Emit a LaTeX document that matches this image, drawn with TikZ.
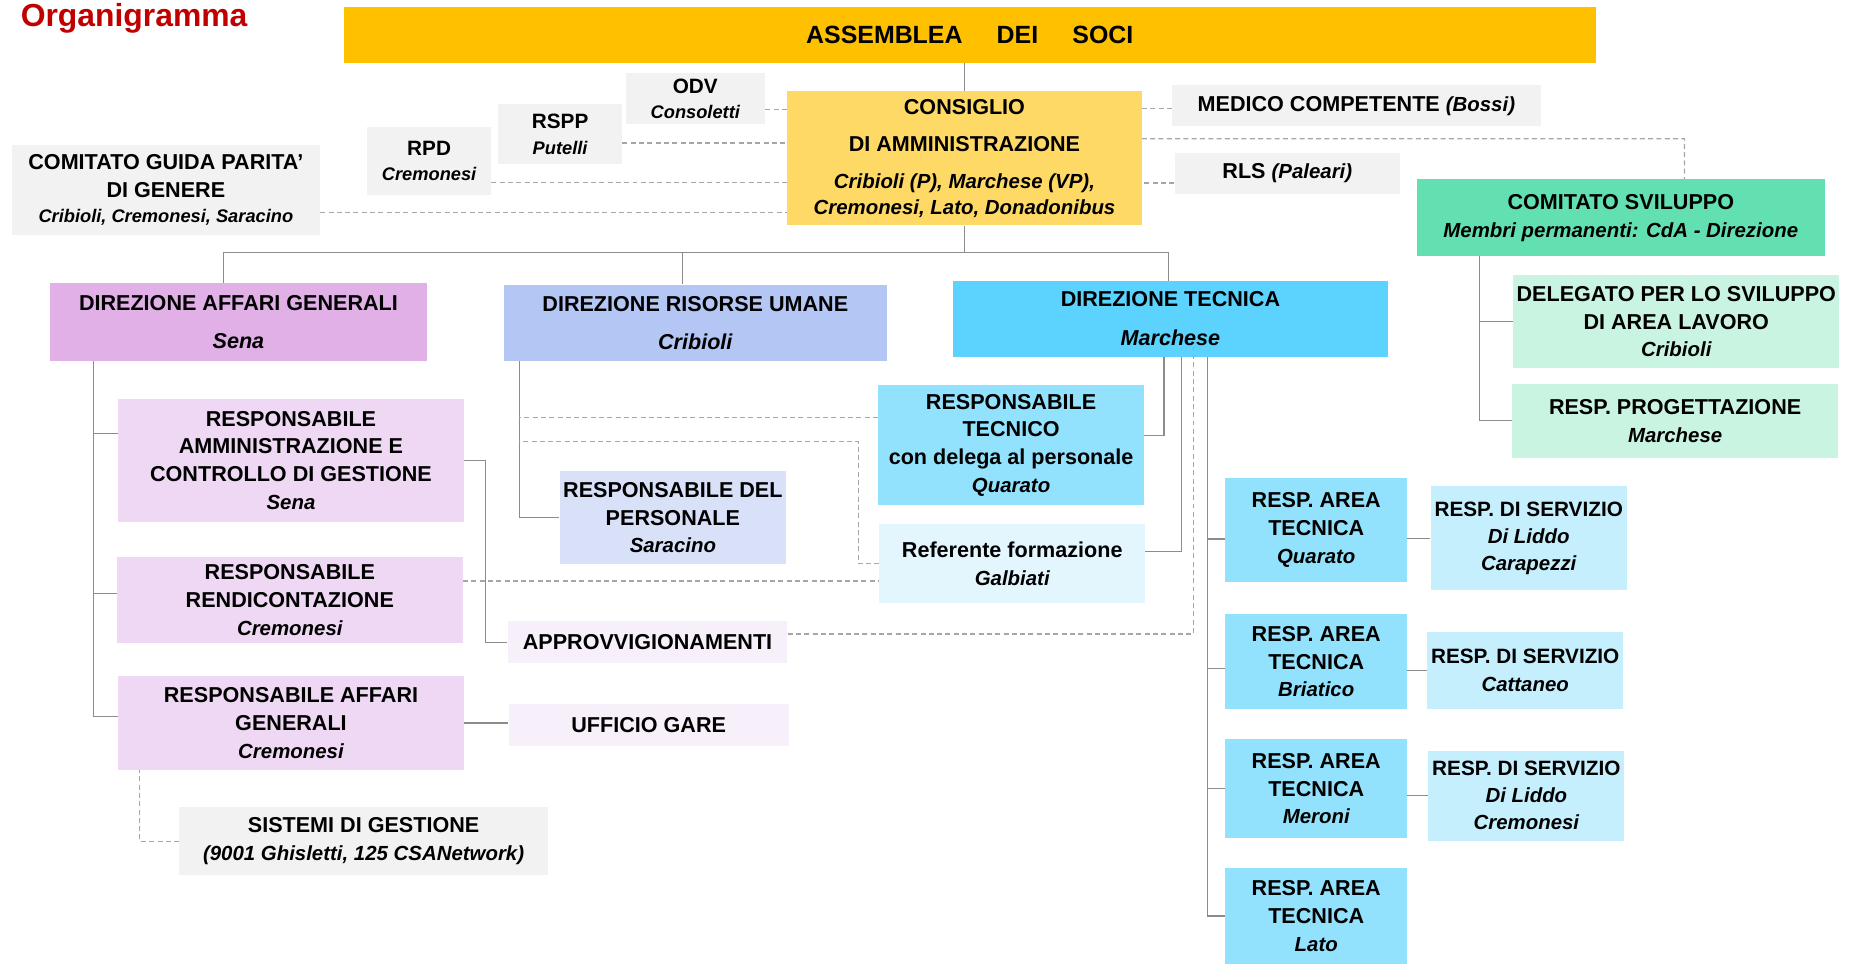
\documentclass[tikz,border=0pt]{standalone}
\usepackage{fontspec}
\setmainfont{Liberation Sans}
\definecolor{cAsm}{HTML}{FFC000}
\definecolor{cCda}{HTML}{FFD966}
\definecolor{cGr}{HTML}{F2F2F2}
\definecolor{cSvil}{HTML}{62E0B1}
\definecolor{cSvilB}{HTML}{C9F4E2}
\definecolor{cAg}{HTML}{E0B0E7}
\definecolor{cAgB}{HTML}{EED8F3}
\definecolor{cAgC}{HTML}{F7F0FA}
\definecolor{cRu}{HTML}{B4C6F4}
\definecolor{cRuB}{HTML}{D9E1F9}
\definecolor{cTec}{HTML}{5CD3FE}
\definecolor{cTecB}{HTML}{93E2FD}
\definecolor{cTecC}{HTML}{C5EFFD}
\definecolor{cTecD}{HTML}{E3F6FE}
\definecolor{cTit}{HTML}{C00000}
\definecolor{lncol}{HTML}{8C8C8C}
\definecolor{dshcol}{HTML}{A6A6A6}
\newcommand\nome[1]{{\itshape\fontsize{12.3}{16.7}\selectfont #1}}
\newcommand\nomeg[1]{{\itshape #1}}
\newcommand\nomep[1]{{\itshape\fontsize{11}{15}\selectfont #1}}

\begin{document}
\begin{tikzpicture}[x=0.025cm,y=-0.025cm,
    box/.style={inner sep=0pt,align=center,font=\bfseries\fontsize{13}{16.7}\selectfont},
    wh/.style 2 args={minimum width={#1*0.025cm},minimum height={#2*0.025cm}},
    conn/.style={draw=lncol,line width=0.7pt},
    dsh/.style={draw=dshcol,line width=0.7pt,dash pattern=on 3pt off 2pt}]
  \useasboundingbox (0,0) rectangle (1568,817);
  \node[anchor=base west,inner sep=0pt,text=cTit,font=\bfseries\fontsize{19.2}{22}\selectfont] (tit) at (17.3,22.6) {Organigramma};
  \node[box,wh={1061}{47},fill=cAsm,font=\bfseries\fontsize{15}{18}\selectfont] (asm) at (821.5,29.5) {ASSEMBLEA\hspace{20.6pt}DEI\hspace{20.6pt}SOCI};
  \node[box,wh={300}{114},fill=cCda] (cda) at (817,134) {CONSIGLIO\\[6pt]DI AMMINISTRAZIONE\\[5.3pt]\nome{Cribioli (P), Marchese (VP),}\\[-1pt]\nome{Cremonesi, Lato, Donadonibus}};
  \node[box,wh={118}{43},fill=cGr,font=\bfseries\fontsize{12.5}{15}\selectfont] (odv) at (589,83.5) {ODV\\\nomep{Consoletti}};
  \node[box,wh={105}{51},fill=cGr,font=\bfseries\fontsize{12.5}{15.5}\selectfont] (rspp) at (474.5,113.5) {RSPP\\\nomep{Putelli}};
  \node[box,wh={105}{57},fill=cGr,font=\bfseries\fontsize{12.5}{15}\selectfont] (rpd) at (363.5,136.5) {RPD\\\nomep{Cremonesi}};
  \node[box,wh={261}{76},fill=cGr] (cgp) at (140.5,161) {COMITATO GUIDA PARITA'\\DI GENERE\\[-1.4pt]\nomep{Cribioli, Cremonesi, Saracino}};
  \node[box,wh={312}{35},fill=cGr] (medico) at (1149,89.5) {MEDICO COMPETENTE \nome{(Bossi)}};
  \node[box,wh={191}{34},fill=cGr] (rls) at (1090.5,147) {RLS \nome{(Paleari)}};
  \node[box,wh={346}{65},fill=cSvil] (csv) at (1373,184.5) {COMITATO SVILUPPO\\\nome{Membri permanenti: CdA - Direzione}};
  \node[box,wh={276}{79},fill=cSvilB] (del) at (1420,272.5) {DELEGATO PER LO SVILUPPO\\DI AREA LAVORO\\\nome{Cribioli}};
  \node[box,wh={276}{63},fill=cSvilB] (prog) at (1419,356.5) {RESP. PROGETTAZIONE\\\nome{Marchese}};
  \node[box,wh={320}{66},fill=cAg] (dag) at (202,273) {DIREZIONE AFFARI GENERALI\\[6pt]\nomeg{Sena}};
  \node[box,wh={324}{65},fill=cRu] (dru) at (589,273.5) {DIREZIONE RISORSE UMANE\\[6pt]\nomeg{Cribioli}};
  \node[box,wh={369}{64},fill=cTec] (dtec) at (991.5,270) {DIREZIONE TECNICA\\[6.7pt]\nomeg{Marchese}};
  \node[box,wh={293}{104},fill=cAgB] (ramm) at (246.5,390) {RESPONSABILE\\AMMINISTRAZIONE E\\CONTROLLO DI GESTIONE\\\nome{Sena}};
  \node[box,wh={293}{73},fill=cAgB] (rrend) at (245.5,508.5) {RESPONSABILE\\RENDICONTAZIONE\\\nome{Cremonesi}};
  \node[box,wh={293}{79},fill=cAgB] (rag) at (246.5,612.5) {RESPONSABILE AFFARI\\GENERALI\\\nome{Cremonesi}};
  \node[box,wh={237}{36},fill=cAgC] (appr) at (548.5,544) {APPROVVIGIONAMENTI};
  \node[box,wh={237}{36},fill=cAgC] (gare) at (549.5,614) {UFFICIO GARE};
  \node[box,wh={312}{57},fill=cGr] (sist) at (308,712.5) {SISTEMI DI GESTIONE\\\nome{(9001 Ghisletti, 125 CSANetwork)}};
  \node[box,wh={192}{79},fill=cRuB] (rpers) at (570,438.5) {RESPONSABILE DEL\\PERSONALE\\\nome{Saracino}};
  \node[box,wh={225}{102},fill=cTecB] (rtec) at (856.5,377) {RESPONSABILE\\TECNICO\\con delega al personale\\\nome{Quarato}};
  \node[box,wh={225}{67},fill=cTecD] (rform) at (857.5,477.5) {Referente formazione\\\nome{Galbiati}};
  \foreach \i/\y/\h/\p in {1/449/88/Quarato,2/560.5/81/Briatico,3/668/84/Meroni,4/776/82/Lato}
    \node[box,wh={154}{\h},fill=cTecB] (at\i) at (1115,\y) {RESP. AREA\\TECNICA\\\nome{\p}};
  \node[box,wh={166}{88},fill=cTecC,font=\bfseries\fontsize{12.5}{16.2}\selectfont] (sv1) at (1295,456) {RESP. DI SERVIZIO\\\nome{Di Liddo}\\\nome{Carapezzi}};
  \node[box,wh={166}{66},fill=cTecC,font=\bfseries\fontsize{12.5}{16.7}\selectfont] (sv2) at (1292,568) {RESP. DI SERVIZIO\\\nome{Cattaneo}};
  \node[box,wh={166}{76},fill=cTecC,font=\bfseries\fontsize{12.5}{16.2}\selectfont] (sv3) at (1293,674) {RESP. DI SERVIZIO\\\nome{Di Liddo}\\\nome{Cremonesi}};

  \coordinate (bag) at (189,214);
  \coordinate (bru) at (578,214);
  \coordinate (btec) at (990,214);
  \coordinate (agl) at (79,306);
  \coordinate (rul) at (440,306);
  \coordinate (rfb) at (727,374);
  \coordinate (apx) at (411,544);
  \coordinate (sgx) at (118,652);
  \coordinate (csx) at (1427,117.5);
  \coordinate (svx) at (1253,217);
  \coordinate (tx1) at (986,302);
  \coordinate (tx2) at (1000.5,302);
  \coordinate (tx3) at (1011,294);
  \coordinate (tx4) at (1023,302);

  \draw[conn] (cda.north) -- (cda.north |- asm.south);
  \draw[conn] (cda.south) -- (cda.south |- bag);
  \draw[conn] (bag |- dag.north) -- (bag) -- (btec) -- (btec |- dtec.north);
  \draw[conn] (bru) -- (bru |- dru.north);
  \draw[dsh] ([yshift=-0.24cm]odv.east) -- ([yshift=-0.24cm]odv.east -| cda.west);
  \draw[dsh] ([yshift=-0.19cm]rspp.east) -- ([yshift=-0.19cm]rspp.east -| cda.west);
  \draw[dsh] ([yshift=-0.46cm]rpd.east) -- ([yshift=-0.46cm]rpd.east -| cda.west);
  \draw[dsh] ([yshift=-0.475cm]cgp.east) -- ([yshift=-0.475cm]cgp.east -| cda.west);
  \draw[dsh] ([yshift=-0.06cm]medico.west) -- ([yshift=-0.06cm]medico.west -| cda.east);
  \draw[dsh] ([yshift=-0.2cm]rls.west) -- ([yshift=-0.2cm]rls.west -| cda.east);
  \draw[dsh] ([yshift=0.41cm]cda.east) -- (csx) -- (csx |- csv.north);
  \draw[conn] (del.west) -| (svx);
  \draw[conn] (prog.west) -| (svx);
  \draw[conn] ([yshift=0.575cm]ramm.west) -| (agl);
  \draw[conn] ([yshift=0.14cm]rrend.west) -| (agl);
  \draw[conn] ([yshift=0.14cm]rag.west) -| (agl);
  \draw[conn] (ramm.east) -| (apx) -- (appr.west);
  \draw[conn] (rag.east) -- (rag.east -| gare.west);
  \draw[dsh] (sist.west) -| (sgx);
  \draw[conn] (rpers.west) -| (rul);
  \draw[dsh] ([yshift=0.575cm]rtec.west) -- ([yshift=0.575cm]rtec.west -| rul);
  \draw[dsh] (rform.west) -| (rfb) -- (rfb -| rul);
  \draw[dsh] ([yshift=0.41cm]rrend.east) -- ([yshift=0.41cm]rrend.east -| rform.west);
  \draw[conn] ([yshift=0.2cm]rtec.east) -| (tx1);
  \draw[conn] ([yshift=0.25cm]rform.east) -| (tx2);
  \draw[dsh] ([yshift=0.175cm]appr.east) -| (tx3);
  \foreach \i/\s in {1/-0.19,2/-0.14,3/0,4/0}
    \draw[conn] ([yshift=\s cm]at\i.west) -| (tx4);
  \foreach \i in {1,2,3}
    \draw[conn] (sv\i.west) -- (sv\i.west -| at\i.east);
\end{tikzpicture}
\end{document}
